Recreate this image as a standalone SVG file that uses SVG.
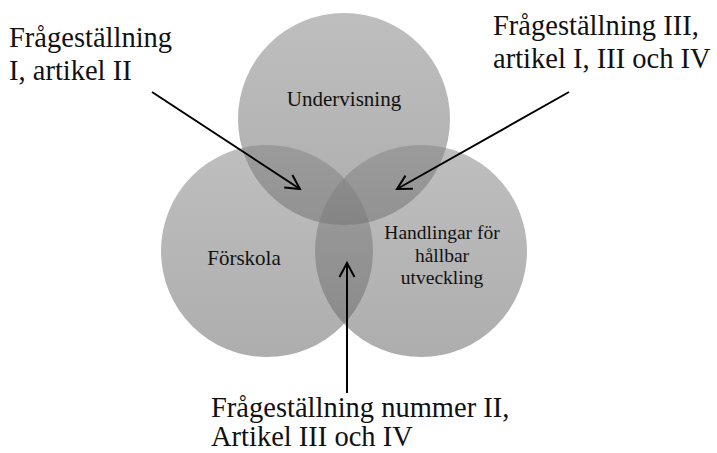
<svg xmlns="http://www.w3.org/2000/svg" width="717" height="453" viewBox="0 0 717 453">
<defs>
<linearGradient id="g" x1="0" y1="0" x2="0" y2="1">
<stop offset="0" stop-color="#858585"/>
<stop offset="1" stop-color="#656565"/>
</linearGradient>
<marker id="ah" viewBox="-16 -9 18 18" refX="0" refY="0" markerWidth="18" markerHeight="18" markerUnits="userSpaceOnUse" orient="auto">
<path d="M-14,-7.5 L0,0 L-14,7.5" fill="none" stroke="#000" stroke-width="2"/>
</marker>
<style>
.c{fill:url(#g);fill-opacity:0.53;stroke:none}
.t{font-family:"Liberation Serif","Times New Roman",serif;fill:#111}
.s{font-size:21px}
.m{font-size:19.5px}
.b{font-size:28.5px}
.a{stroke:#000;stroke-width:2;fill:none;marker-end:url(#ah)}
</style>
</defs>
<rect width="717" height="453" fill="#fff"/>
<g id="undervisning">
<circle class="c" cx="344" cy="119" r="106"/>
<text class="t s" x="344" y="106" text-anchor="middle">Undervisning</text>
</g>
<g id="forskola">
<circle class="c" cx="267" cy="251" r="106"/>
<text class="t s" x="244" y="265" text-anchor="middle">Förskola</text>
</g>
<g id="handlingar">
<circle class="c" cx="421" cy="251" r="106"/>
<text class="t m" text-anchor="middle"><tspan x="442" y="239">Handlingar för</tspan><tspan x="442" y="261.5">hållbar</tspan><tspan x="442" y="284">utveckling</tspan></text>
</g>
<g id="label1">
<text class="t b"><tspan x="9" y="47">Frågeställning</tspan><tspan x="9" y="80">I, artikel II</tspan></text>
</g>
<g id="label2">
<text class="t b"><tspan x="493" y="35">Frågeställning III,</tspan><tspan x="493" y="68">artikel I, III och IV</tspan></text>
</g>
<g id="label3">
<text class="t b"><tspan x="211" y="417">Frågeställning nummer II,</tspan><tspan x="211" y="446">Artikel III och IV</tspan></text>
</g>
<g id="connectors">
<line class="a" x1="152" y1="92" x2="300" y2="189"/>
<line class="a" x1="569" y1="92" x2="397" y2="189"/>
<line class="a" x1="347" y1="393" x2="347" y2="263"/>
</g>
</svg>
